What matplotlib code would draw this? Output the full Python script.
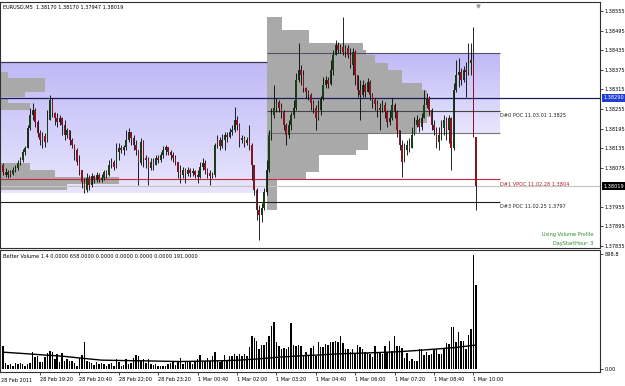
import numpy as np
import matplotlib
matplotlib.use('Agg')
import matplotlib.pyplot as plt
from matplotlib.patches import Rectangle
from matplotlib.colors import LinearSegmentedColormap

W, H = 625, 386


def box(x0, y0, x1, y1):
    # pixel box -> figure fraction
    return [x0 / W, 1 - y1 / H, (x1 - x0) / W, (y1 - y0) / H]


# EURUSD M5, prices in points (1e-5), one entry per bar
first_open = 138083
closes = [
    138062, 138053, 138062, 138056, 138068, 138074, 138090, 138099, 138123, 138136,
    138197, 138237, 138252, 138215, 138182, 138160, 138172, 138154, 138221, 138283,
    138243, 138227, 138215, 138227, 138206, 138175, 138191, 138160, 138145, 138129,
    138093, 138068, 138031, 138007, 138044, 138022, 138050, 138038, 138053, 138038,
    138044, 138062, 138053, 138083, 138093, 138077, 138123, 138136, 138129, 138139,
    138160, 138185, 138166, 138145, 138129, 138090, 138154, 138105, 138099, 138074,
    138093, 138083, 138105, 138099, 138114, 138129, 138139, 138123, 138114, 138105,
    138093, 138062, 138053, 138068, 138056, 138068, 138059, 138065, 138053, 138047,
    138077, 138090, 138068, 138059, 138050, 138053, 138145, 138160, 138142, 138160,
    138175, 138169, 138185, 138191, 138221, 138206, 138160, 138166, 138151, 138160,
    138145, 138083, 138007, 137946, 137930, 137952, 138001, 138068, 138175, 138237,
    138258, 138276, 138258, 138246, 138206, 138175, 138206, 138237, 138258, 138344,
    138374, 138359, 138319, 138307, 138298, 138273, 138258, 138227, 138252, 138289,
    138329, 138344, 138332, 138374, 138420, 138451, 138436, 138445, 138430, 138442,
    138420, 138390, 138430, 138359, 138313, 138298, 138329, 138307, 138338, 138298,
    138283, 138270, 138252, 138258, 138267, 138246, 138215, 138227, 138267, 138246,
    138191, 138145, 138093, 138129, 138145, 138136, 138175, 138206, 138221, 138200,
    138227, 138267, 138289, 138252, 138206, 138191, 138154, 138175, 138197, 138221,
    138191, 138227, 138136, 138313, 138359, 138368, 138344, 138374, 138368, 138396,
    138405, 138170, 138019,
]
highs = [
    138090, 138074, 138068, 138068, 138077, 138083, 138099, 138108, 138132, 138142,
    138206, 138258, 138273, 138258, 138221, 138191, 138185, 138182, 138252, 138298,
    138289, 138246, 138243, 138237, 138231, 138221, 138197, 138191, 138166, 138148,
    138136, 138114, 138062, 138044, 138059, 138053, 138059, 138053, 138062, 138059,
    138056, 138068, 138068, 138099, 138105, 138099, 138151, 138151, 138145, 138145,
    138191, 138197, 138182, 138175, 138160, 138129, 138166, 138160, 138114, 138108,
    138105, 138105, 138114, 138114, 138123, 138142, 138145, 138136, 138129, 138123,
    138114, 138093, 138083, 138077, 138074, 138077, 138074, 138074, 138068, 138068,
    138093, 138105, 138099, 138074, 138068, 138062, 138151, 138175, 138169, 138178,
    138185, 138185, 138197, 138206, 138261, 138234, 138212, 138175, 138172, 138169,
    138206, 138151, 138083, 138013, 137961, 137967, 138013, 138099, 138191, 138258,
    138329, 138289, 138283, 138273, 138252, 138212, 138221, 138246, 138283, 138365,
    138457, 138390, 138374, 138322, 138313, 138304, 138283, 138267, 138283, 138295,
    138353, 138356, 138353, 138405, 138436, 138466, 138460, 138454, 138537, 138451,
    138451, 138442, 138442, 138436, 138359, 138344, 138344, 138335, 138350, 138344,
    138304, 138289, 138283, 138273, 138283, 138276, 138252, 138252, 138289, 138273,
    138252, 138191, 138160, 138151, 138160, 138166, 138200, 138231, 138237, 138227,
    138243, 138313, 138304, 138295, 138258, 138221, 138200, 138200, 138221, 138237,
    138231, 138237, 138231, 138335, 138405, 138411, 138381, 138387, 138399, 138457,
    138457, 138506, 138170,
]
lows = [
    138053, 138047, 138044, 138047, 138053, 138062, 138068, 138083, 138093, 138114,
    138136, 138191, 138221, 138200, 138169, 138145, 138136, 138139, 138154, 138227,
    138231, 138206, 138200, 138206, 138175, 138160, 138166, 138145, 138136, 138099,
    138083, 138053, 138013, 137998, 138001, 138007, 138016, 138028, 138031, 138031,
    138031, 138038, 138044, 138050, 138074, 138068, 138074, 138099, 138120, 138114,
    138129, 138154, 138145, 138129, 138114, 138022, 138083, 138077, 138074, 138022,
    138068, 138068, 138083, 138090, 138093, 138105, 138114, 138114, 138099, 138093,
    138083, 138044, 138028, 138044, 138028, 138050, 138047, 138050, 138044, 138028,
    138044, 138068, 138056, 138044, 138022, 138044, 138047, 138136, 138129, 138136,
    138129, 138154, 138166, 138175, 138185, 138191, 138139, 138151, 138139, 138145,
    138129, 138038, 137992, 137915, 137854, 137909, 137946, 137992, 138062, 138160,
    138227, 138246, 138246, 138227, 138191, 138145, 138166, 138191, 138227, 138252,
    138338, 138329, 138307, 138289, 138283, 138252, 138243, 138191, 138221, 138237,
    138283, 138319, 138319, 138329, 138359, 138420, 138427, 138427, 138420, 138414,
    138411, 138381, 138359, 138329, 138292, 138221, 138292, 138292, 138313, 138283,
    138258, 138252, 138231, 138191, 138246, 138227, 138200, 138206, 138221, 138227,
    138169, 138129, 138047, 138099, 138114, 138123, 138145, 138191, 138200, 138185,
    138191, 138227, 138258, 138237, 138191, 138175, 138136, 138129, 138160, 138175,
    138160, 138151, 138068, 138129, 138307, 138322, 138329, 138338, 138292, 138359,
    138359, 138170, 137947,
]
volumes = [
    187, 52, 36, 44, 31, 52, 44, 52, 44, 26,
    44, 52, 140, 96, 109, 62, 62, 96, 130, 148,
    135, 78, 122, 62, 130, 70, 83, 70, 70, 52,
    31, 88, 114, 218, 70, 57, 52, 36, 57, 39,
    52, 44, 31, 44, 52, 31, 78, 57, 26, 36,
    83, 44, 52, 88, 114, 109, 70, 78, 52, 83,
    44, 36, 44, 26, 31, 26, 31, 44, 52, 57,
    36, 57, 88, 44, 62, 57, 62, 44, 57, 78,
    114, 70, 70, 88, 70, 109, 140, 70, 57, 70,
    114, 70, 109, 109, 122, 109, 122, 104, 122, 104,
    174, 260, 244, 226, 161, 192, 192, 213, 260, 338,
    374, 213, 187, 156, 166, 161, 174, 364, 192, 182,
    192, 187, 109, 140, 114, 166, 182, 109, 218, 174,
    174, 200, 192, 218, 218, 224, 218, 265, 208, 161,
    156, 140, 156, 130, 192, 174, 161, 140, 130, 122,
    96, 187, 140, 140, 122, 187, 140, 226, 148, 265,
    187, 187, 166, 88, 130, 70, 83, 70, 70, 161,
    161, 114, 140, 114, 122, 156, 156, 122, 122, 161,
    208, 200, 335, 335, 213, 296, 226, 226, 161, 270,
    317, 890, 658,
]
# volume average line, read every 8 bars
avg_idx = [0, 8, 16, 24, 32, 40, 48, 56, 64, 72, 80, 88, 96, 104, 112, 120,
           128, 136, 144, 152, 160, 168, 176, 184, 192]
avg_vol = [135, 125, 114, 104, 88, 73, 70, 68, 65, 62, 65, 68, 73, 83, 96, 106,
           113, 122, 127, 132, 138, 148, 160, 172, 191]

time_ticks = [15, 31, 47, 63, 79, 95, 111, 127, 143, 159, 175, 191]
time_labels = ['28 Feb 19:20', '28 Feb 20:40', '28 Feb 22:00', '28 Feb 23:20',
               '1 Mar 00:40', '1 Mar 02:00', '1 Mar 03:20', '1 Mar 04:40',
               '1 Mar 06:00', '1 Mar 07:20', '1 Mar 08:40', '1 Mar 10:00']

# volume profile of 1 Mar (day starts at bar 107.2), rows of price edges + length in bars
day2_start = 107.2
d2_edges = [1.38537, 1.38497, 1.38457, 1.38436, 1.38420, 1.38396, 1.38374, 1.38335,
            1.38313, 1.38252, 1.38231, 1.38212, 1.38182, 1.38129, 1.38114, 1.38062,
            1.38038, 1.37946]
d2_len = [6, 17, 39, 40, 44, 49, 55, 63, 65, 67, 65, 61, 41, 36, 21, 16, 4]

# profile of 28 Feb (started off-chart at bar -181), only the visible rows
day1_start = -181
d1_top = [1.38368, 1.38350, 1.38307, 1.38289, 1.38273, 1.38090, 1.38068, 1.38047, 1.38025]
d1_bot = [1.38350, 1.38307, 1.38292, 1.38273, 1.38252, 1.38068, 1.38047, 1.38025, 1.38007]
d1_len = [183, 198, 190, 183, 192, 192, 202, 228, 207]

va1_high, va1_low = 1.38399, 1.37998
va2_high, va2_low = 1.38427, 1.38182
alert_line = 1.38290
bid = 1.38019
d0_poc, d1_vpoc, d3_poc = 1.3825, 1.3804, 1.3797

price_ticks = [1.37835, 1.37895, 1.37955, 1.38075, 1.38135, 1.38195, 1.38255,
               1.38315, 1.38375, 1.38435, 1.38495, 1.38555]

plt.rcParams['font.family'] = ['DejaVu Sans']
FS = 3.6

c = np.array(closes) / 1e5
o = np.r_[first_open, closes[:-1]] / 1e5
hi = np.maximum(np.array(highs) / 1e5, np.maximum(o, c))
lo = np.minimum(np.array(lows) / 1e5, np.minimum(o, c))
x = np.arange(len(c))

fig = plt.figure(figsize=(W / 100, H / 100), dpi=100)
ax = fig.add_axes(box(0, 2, 600, 248))
axv = fig.add_axes(box(0, 250, 600, 372))

xl = (-1.24, 242.4)
line_end = 201.8

# value areas with lavender gradient
cmap = LinearSegmentedColormap.from_list('va', ['#c0b9f6', '#e8e5fd'])
grad = np.linspace(0, 1, 64).reshape(-1, 1)
ax.imshow(grad, cmap=cmap, extent=[xl[0], day2_start, va1_low, va1_high],
          origin='upper', aspect='auto', zorder=0, interpolation='bilinear')
ax.imshow(grad, cmap=cmap, extent=[day2_start, line_end, va2_low, va2_high],
          origin='upper', aspect='auto', zorder=0, interpolation='bilinear')

# volume profiles
gray = '#a9a9a9'
for i, ln in enumerate(d2_len):
    ax.add_patch(Rectangle((day2_start, d2_edges[i + 1]), ln, d2_edges[i] - d2_edges[i + 1],
                           fc=gray, ec='none', zorder=1))
for t, b, ln in zip(d1_top, d1_bot, d1_len):
    ax.add_patch(Rectangle((day1_start, b), ln, t - b, fc=gray, ec='none', zorder=1))

# level lines
ax.hlines(va1_high, xl[0], day2_start, color='#3a3a58', lw=0.9, zorder=2)
ax.hlines(va2_high, day2_start, line_end, color='#55506a', lw=0.8, zorder=2)
ax.hlines(va2_low, day2_start, line_end, color='#767676', lw=0.8, zorder=2)
ax.hlines(d0_poc, day2_start, line_end, color='#454545', lw=0.8, zorder=2)
ax.hlines(alert_line, xl[0], xl[1], color='#1c1c5c', lw=0.9, zorder=2)
ax.hlines(bid, xl[0], xl[1], color='#c4c4c4', lw=0.8, zorder=2)
ax.hlines(d1_vpoc, xl[0], line_end, color='#c8283c', lw=0.8, zorder=2)
ax.hlines(d3_poc, xl[0], line_end, color='#1e1e1e', lw=0.8, zorder=2)

# candles
up = c >= o
body = np.where(np.abs(c - o) < 5e-6, 1e-5, c - o)
ax.vlines(x, lo, hi, color='black', lw=0.6, zorder=4)
ax.bar(x, body, bottom=o, width=0.62, color=np.where(up, '#144014', '#8a1424'),
       zorder=5, linewidth=0)

# level texts
off = 0.00015
ax.text(line_end, d0_poc - off, 'D#0 POC 11.03.01 1.3825', fontsize=FS,
        va='center', ha='left', color='#202020', zorder=6)
ax.text(line_end, d1_vpoc - off, 'D#1 VPOC 11.02.28 1.3804', fontsize=FS,
        va='center', ha='left', color='#b02030', zorder=6)
ax.text(line_end, d3_poc - off, 'D#3 POC 11.02.25 1.3797', fontsize=FS,
        va='center', ha='left', color='#202020', zorder=6)

# chart shift marker
ax.plot([192.9], [0.985], marker='v', ms=2.2, color='#9a9a9a',
        transform=ax.get_xaxis_transform(), clip_on=False, zorder=6)

ax.set_xlim(xl)
ax.set_ylim(1.37829, 1.38583)
ax.set_xticks([])
ax.yaxis.tick_right()
ax.set_yticks(price_ticks)
ax.set_yticklabels(['%.5f' % p for p in price_ticks])
ax.tick_params(axis='y', labelsize=FS, length=2, width=0.5, pad=1.5)

# highlighted price labels on the axis
for val, fc in [(alert_line, '#1f3fd0'), (bid, '#000000')]:
    ax.text(1.006, val, '%.5f' % val, transform=ax.get_yaxis_transform(),
            fontsize=FS, color='white', va='center', ha='left', clip_on=False,
            bbox=dict(boxstyle='square,pad=0.3', fc=fc, ec='none'), zorder=7)

# volume panel
axv.bar(x, volumes, width=0.6, color='black', linewidth=0, zorder=2)
axv.plot(avg_idx, avg_vol, color='black', lw=1.0, zorder=3)
axv.set_xlim(xl)
axv.set_ylim(-19.5, 932)
axv.yaxis.tick_right()
axv.set_yticks([0, 898.8])
axv.set_yticklabels(['0.00', '898.8'])
axv.tick_params(axis='y', labelsize=FS, length=2, width=0.5, pad=1.5)
axv.set_xticks(time_ticks)
axv.set_xticklabels(time_labels)
axv.tick_params(axis='x', labelsize=FS, length=2, width=0.5, pad=1.5)
for lbl in axv.get_xticklabels():
    lbl.set_ha('left')

for a in (ax, axv):
    for s in a.spines.values():
        s.set_color('#303030')
        s.set_linewidth(0.8)

fig.text(1 / W, 1 - 380 / H, '28 Feb 2011', fontsize=FS, va='center', ha='left')
fig.text(3 / W, 1 - 7 / H, 'EURUSD,M5  1.38170 1.38170 1.37947 1.38019',
         fontsize=FS, va='center', ha='left')
fig.text(3 / W, 1 - 256 / H,
         'Better Volume 1.4 0.0000 658.0000 0.0000 0.0000 0.0000 0.0000 191.0000',
         fontsize=FS, va='center', ha='left')
fig.text(593 / W, 1 - 234 / H, 'Using Volume Profile', fontsize=FS,
         va='center', ha='right', color='#2a8a2a')
fig.text(593 / W, 1 - 243 / H, 'DayStartHour: 3', fontsize=FS,
         va='center', ha='right', color='#2a8a2a')

fig.savefig('out.png', dpi=100)
